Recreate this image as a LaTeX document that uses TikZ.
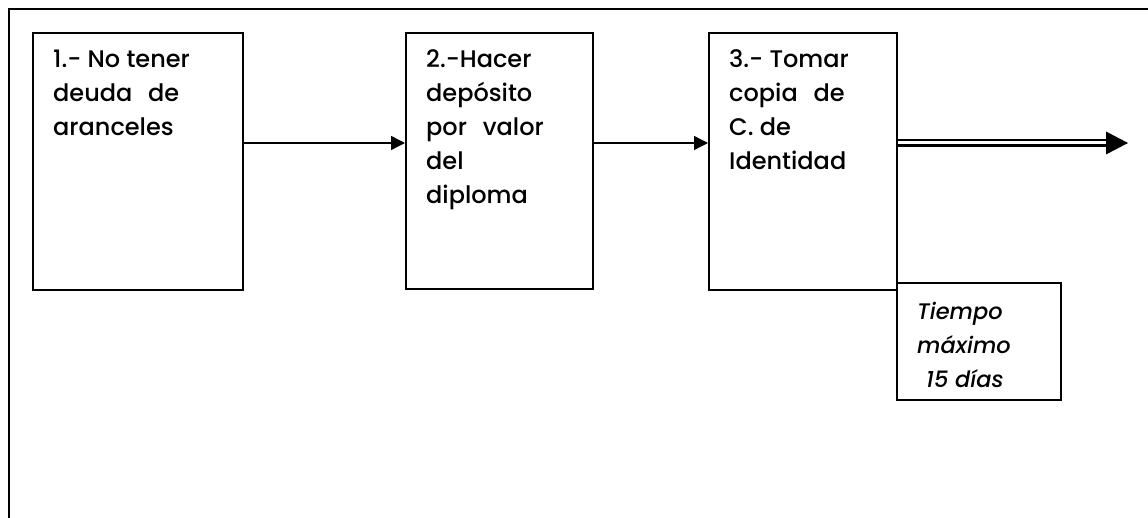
\documentclass[tikz,border=0pt]{standalone}
\usepackage{fontspec}
\setmainfont{Poppins}[UprightFont=* Medium, ItalicFont=* Medium Italic]
\usetikzlibrary{arrows.meta}
\tikzset{
  frameline/.style={line width=2.2pt},
  stepbox/.style={draw, line width=1.8pt, inner sep=0pt},
  steptext/.style={anchor=base west, inner sep=0pt, font=\fontsize{24}{34}\selectfont},
  conn/.style={line width=1.3pt, -{Triangle[length=14pt,width=14pt]}},
}
\newcommand{\ml}[1]{\begin{tabular}[t]{@{}l@{}}#1\end{tabular}}
\begin{document}
\begin{tikzpicture}[x=1pt,y=-1pt]
\useasboundingbox (0,0) rectangle (1148,518);
% frame (open on the right and bottom)
\coordinate (fTR) at (1148,9);
\coordinate (fTL) at (9,9);
\coordinate (fBL) at (9,518);
\draw[frameline] (fTR) -- (fTL) -- (fBL);
% boxes
\node[stepbox, minimum width=210pt, minimum height=257pt, anchor=north west] (b1) at (32,32) {};
\node[stepbox, minimum width=187pt, minimum height=256pt, anchor=north west] (b2) at (405,32) {};
\node[stepbox, minimum width=188pt, minimum height=257pt, anchor=north west] (b3) at (708,32) {};
\node[stepbox, minimum width=164pt, minimum height=117pt, anchor=north west] (t) at (896,282) {};
% texts
\node[steptext] (t1) at (53,68) {\ml{1.- No tener\\deuda\hspace{0.4em} de\\aranceles}};
\node[steptext] (t2) at (426,68) {\ml{2.-Hacer\\depósito\\por\hspace{0.4em} valor\\del\\diploma}};
\node[steptext] (t3) at (729,68) {\ml{3.- Tomar\\copia\hspace{0.4em} de\\C. de\\Identidad}};
\node[steptext, font=\fontsize{22.5}{33.5}\selectfont\itshape] (t4) at (917,320) {\ml{Tiempo\\máximo\\\hspace{9pt}15 días}};
% connectors
\coordinate (row) at (0,143);
\draw[conn] (b1.east |- row) -- (b2.west |- row);
\draw[conn] (b2.east |- row) -- (b3.west |- row);
\coordinate (hb) at (1106,143);
\coordinate (tip) at (1128,143);
\draw[line width=2.4pt, double, double distance=3pt] (b3.east |- row) -- (hb);
\fill ([yshift=-11.5pt]hb) -- (tip) -- ([yshift=11.5pt]hb) -- cycle;
\end{tikzpicture}
\end{document}
